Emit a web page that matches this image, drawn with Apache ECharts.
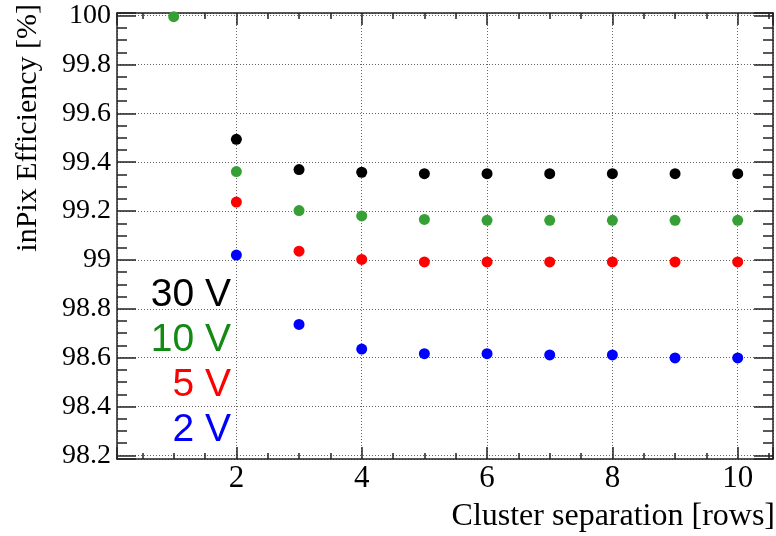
<!DOCTYPE html>
<html>
<head>
<meta charset="utf-8">
<script src="https://cdn.jsdelivr.net/npm/echarts@6/dist/echarts.min.js"></script>
<style>html,body{margin:0;padding:0;background:#fff;}#c{width:776px;height:536px;}</style>
</head>
<body>
<div id="c"></div>
<script>
// ---- data ----
const separations = [1, 2, 3, 4, 5, 6, 7, 8, 9, 10];
const eff30V = [null, 99.494, 99.370, 99.359, 99.353, 99.353, 99.353, 99.353, 99.353, 99.353];
const eff10V = [99.996, 99.362, 99.202, 99.180, 99.166, 99.162, 99.162, 99.162, 99.162, 99.162];
const eff5V  = [null, 99.237, 99.036, 99.002, 98.992, 98.992, 98.992, 98.992, 98.992, 98.992];
const eff2V  = [null, 99.020, 98.736, 98.635, 98.616, 98.616, 98.611, 98.611, 98.599, 98.599];
const seriesNames = ['30 V', '10 V', '5 V', '2 V'];
const xTitle = 'Cluster separation [rows]';
const yTitle = 'inPix Efficiency [%]';

const markerColors = ['#000000', '#36a036', '#ff0000', '#0000ff'];
const textColors = ['#000000', '#138a13', '#ff0000', '#0000ff'];
const values = [eff30V, eff10V, eff5V, eff2V];

function pairs(arr) {
  const out = [];
  separations.forEach((s, i) => { if (arr[i] != null) out.push([s, arr[i]]); });
  return out;
}

const X_MIN = 0.095, X_MAX = 10.563;
const Y_MIN = 98.185, Y_MAX = 100.011;
const frameColor = '#222';
const serif = '"Liberation Serif", "Times New Roman", serif';
const gridStyle = { color: '#666', width: 1, type: [1, 2] };

function isMult(v, step) {
  const r = v / step;
  return Math.abs(r - Math.round(r)) < 1e-6;
}

const chart = echarts.init(document.getElementById('c'), null, { renderer: 'canvas' });

const xBase = {
  type: 'value', min: X_MIN, max: X_MAX, minInterval: 2, maxInterval: 2,
  axisLine: { show: true, onZero: false, lineStyle: { color: frameColor, width: 1.5 } },
  axisTick: { show: true, inside: true, length: 12, lineStyle: { color: frameColor, width: 1.5 } },
  minorTick: { show: true, splitNumber: 4, length: 6, lineStyle: { color: frameColor, width: 1.5 } },
};
const yBase = {
  type: 'value', min: Y_MIN, max: Y_MAX, minInterval: 0.2, maxInterval: 0.2,
  axisLine: { show: true, onZero: false, lineStyle: { color: frameColor, width: 1.5 } },
  axisTick: { show: true, inside: true, length: 19, lineStyle: { color: frameColor, width: 1.5 } },
  minorTick: { show: true, splitNumber: 4, length: 10, lineStyle: { color: frameColor, width: 1.5 } },
};

const option = {
  backgroundColor: '#ffffff',
  animation: false,
  textStyle: { fontFamily: serif },
  grid: { left: 117, top: 13, width: 656, height: 446, containLabel: false },
  xAxis: [
    Object.assign({}, xBase, {
      position: 'bottom',
      splitLine: { show: true, lineStyle: gridStyle },
      axisLabel: {
        show: true, margin: 4, color: '#000', fontFamily: serif, fontSize: 31,
        formatter: v => isMult(v, 2) && v > 0 ? String(Math.round(v)) : ''
      }
    }),
    Object.assign({}, xBase, {
      position: 'top',
      splitLine: { show: false },
      axisLabel: { show: false }
    })
  ],
  yAxis: [
    Object.assign({}, yBase, {
      position: 'left',
      splitLine: { show: true, lineStyle: gridStyle },
      axisLabel: {
        show: true, margin: 6, color: '#000', fontFamily: serif, fontSize: 28,
        formatter: v => isMult(v, 0.2) ? String(Math.round(v * 10) / 10) : ''
      }
    }),
    Object.assign({}, yBase, {
      position: 'right',
      splitLine: { show: false },
      axisLabel: { show: false }
    })
  ],
  series: values.map((arr, i) => ({
    name: seriesNames[i],
    type: 'scatter',
    xAxisIndex: 0, yAxisIndex: 0,
    symbol: 'circle',
    symbolSize: 11,
    itemStyle: { color: markerColors[i], opacity: 1 },
    data: pairs(arr),
    z: 3
  })),
  graphic: [
    {
      type: 'text', x: 775, y: 517,
      style: { text: xTitle, fill: '#000', font: '32px "Liberation Serif"', align: 'right', verticalAlign: 'middle' }
    },
    {
      type: 'text', x: 28, y: 4, rotation: Math.PI / 2,
      style: { text: yTitle, fill: '#000', font: '30px "Liberation Serif"', align: 'right', verticalAlign: 'middle' }
    }
  ].concat(seriesNames.map((n, i) => ({
    type: 'text', x: 231, y: 295 + 45 * i,
    style: { text: n, fill: textColors[i], font: '39px "Liberation Sans"', align: 'right', verticalAlign: 'middle' }
  })))
};

chart.setOption(option);
</script>
</body>
</html>
